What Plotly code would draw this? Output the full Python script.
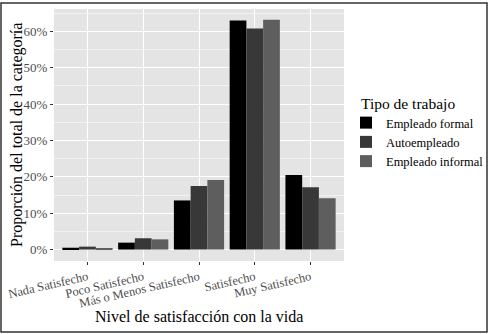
import plotly.graph_objects as go

# Categorías de satisfacción con la vida
categorias = ["Nada Satisfecho", "Poco Satisfecho", "Más o Menos Satisfecho",
              "Satisfecho", "Muy Satisfecho"]

# Proporción (fracción) por tipo de trabajo
empleado_formal = [0.005, 0.019, 0.135, 0.630, 0.205]
autoempleado = [0.008, 0.031, 0.175, 0.608, 0.171]
empleado_informal = [0.004, 0.028, 0.191, 0.632, 0.141]

series = [
    ("Empleado formal", empleado_formal, "#000000"),
    ("Autoempleado", autoempleado, "#383838"),
    ("Empleado informal", empleado_informal, "#5e5e5e"),
]

FONT = "Liberation Serif"

fig = go.Figure()
for nombre, valores, color in series:
    fig.add_trace(go.Bar(
        x=categorias, y=valores, name=nombre,
        marker=dict(color=color, line=dict(width=0)),
    ))

W, H = 492, 334
L, R, T, B = 54, 148, 9, 73
pw, ph = W - L - R, H - T - B


def px_x(x):
    return (x - L) / pw


def px_y(y):
    return (H - B - y) / ph


titulo_font = dict(family=FONT, size=16, color="black")

fig.update_layout(
    width=W, height=H,
    margin=dict(l=L, r=R, t=T, b=B, autoexpand=False),
    paper_bgcolor="white",
    plot_bgcolor="#e4e4e4",
    barmode="group",
    bargap=0.1,
    bargroupgap=0,
    font=dict(family=FONT, color="#4d4d4d", size=12),
    legend=dict(
        font=dict(family=FONT, size=12.5, color="black"),
        x=px_x(346), xanchor="left",
        y=px_y(108), yanchor="top",
        bgcolor="rgba(0,0,0,0)",
        itemwidth=30,
        tracegroupgap=0,
    ),
    xaxis=dict(
        range=[-0.6, 4.6],
        automargin=False,
        showgrid=True, gridcolor="white", gridwidth=1.2,
        ticks="outside", ticklen=3, tickcolor="#333333",
        tickangle=-13,
        tickfont=dict(family=FONT, size=12.5, color="#4d4d4d"),
        zeroline=False,
    ),
    yaxis=dict(
        range=[-0.0315, 0.6615],
        automargin=False,
        tickvals=[0, 0.1, 0.2, 0.3, 0.4, 0.5, 0.6],
        tickformat=".0%",
        showgrid=True, gridcolor="white", gridwidth=1.2,
        minor=dict(tickvals=[0.05, 0.15, 0.25, 0.35, 0.45, 0.55, 0.65],
                   showgrid=True, gridcolor="#f2f2f2", gridwidth=0.6),
        ticks="outside", ticklen=3, tickcolor="#333333",
        tickfont=dict(family=FONT, size=13, color="#4d4d4d"),
        zeroline=False,
    ),
    annotations=[
        dict(text="Nivel de satisfacción con la vida", xref="paper", yref="paper",
             x=0.5, y=px_y(316), xanchor="center", yanchor="middle",
             showarrow=False, font=titulo_font),
        dict(text="Proporción del total de la categoría", xref="paper", yref="paper",
             x=px_x(17), y=0.5, xanchor="center", yanchor="middle",
             textangle=-90, showarrow=False, font=titulo_font),
        dict(text="Tipo de trabajo", xref="paper", yref="paper",
             x=px_x(359), y=px_y(103), xanchor="left", yanchor="middle",
             showarrow=False, font=dict(family=FONT, size=15.5, color="black")),
    ],
    shapes=[dict(
        type="rect", xref="paper", yref="paper",
        x0=px_x(1), x1=px_x(487),
        y0=px_y(332), y1=px_y(3),
        line=dict(color="#333333", width=1.5),
        fillcolor="rgba(0,0,0,0)", layer="above",
    )],
)

fig.write_html("out.html")
